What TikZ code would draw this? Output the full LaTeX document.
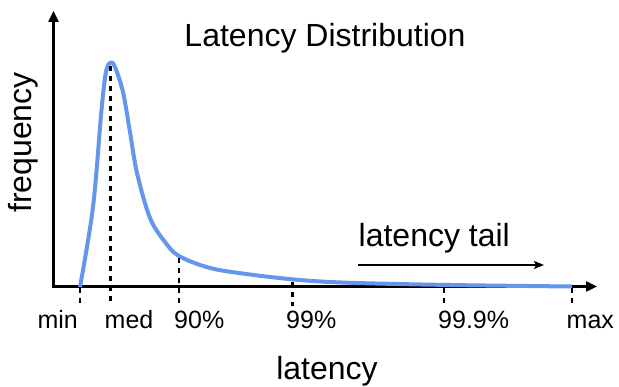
\documentclass[tikz,border=0pt]{standalone}
\usepackage{fontspec}
\setmainfont{Liberation Sans}
\usetikzlibrary{arrows.meta}
\definecolor{curveblue}{RGB}{100,150,235}

\begin{document}
\begin{tikzpicture}[x=1pt,y=-1pt,
    axis/.style={line width=2.4pt,-{Triangle[length=11pt,width=10pt]}},
    tickline/.style={line width=2.4pt,dash pattern=on 5.5pt off 4.5pt},
    bigtext/.style={font=\fontsize{32}{38}\selectfont,inner sep=0pt},
    ticktext/.style={font=\fontsize{25}{30}\selectfont,inner sep=0pt}]
      \useasboundingbox (0,0) rectangle (619,387);
      % axes
      \coordinate (O) at (53.5,286.5);
      \coordinate (ytop) at (53.5,11);
      \coordinate (xend) at (597,286.5);
      \draw[axis] (O |- 0,287.7) -- (ytop);
      \draw[axis] (O) -- (xend);
      % distribution
      \draw[curveblue,line width=4pt,line join=round] plot[smooth,tension=0.55] coordinates
        {(80,287) (93,207) (101.5,110) (106,72) (110.5,62.5) (115,67) (123,92)
         (130,132) (137,173) (150,218) (165,242) (179,256) (210,268) (250,274.5)
         (300,280) (350,282.8) (450,285) (572,286.5)};
      % ticks
      \coordinate (tmin) at (80,288);   \coordinate (bmin) at (80,306);
      \coordinate (tmed) at (110.5,66); \coordinate (bmed) at (110.5,306);
      \coordinate (t90) at (179,258);   \coordinate (b90) at (179,306);
      \coordinate (t99) at (292.3,282); \coordinate (b99) at (292.3,306);
      \coordinate (t999) at (444,288);  \coordinate (b999) at (444,306);
      \coordinate (tmax) at (572,288);  \coordinate (bmax) at (572,306);
      \draw[tickline] (tmin) -- (bmin);
      \draw[tickline] (tmed) -- (bmed);
      \draw[tickline] (t90) -- (b90);
      \draw[tickline] (t99) -- (b99);
      \draw[tickline] (t999) -- (b999);
      \draw[tickline] (tmax) -- (bmax);
      % labels
      \node[ticktext,anchor=base east] (lmin) at (78,329) {min};
      \node[ticktext,anchor=base west] (lmed) at (104.5,329) {med};
      \node[ticktext,anchor=base west] (l90) at (174,329) {90\%};
      \node[ticktext,anchor=base west] (l99) at (286,329) {99\%};
      \node[ticktext,anchor=base west] (l999) at (438,329) {99.9\%};
      \node[ticktext,anchor=base west] (lmax) at (566.5,329) {max};
      \node[bigtext,anchor=base] (title) at (325,46.5) {Latency Distribution};
      \node[bigtext,anchor=base,rotate=90] (ylabel) at (31,142.5) {frequency};
      \node[bigtext,anchor=base] (xlabel) at (327,379.5) {latency};
      \node[bigtext,anchor=base west] (tail) at (358.5,247) {latency tail};
      \coordinate (tailstart) at (358,265);
      \coordinate (tailend) at (544,265);
      \draw[line width=1.6pt,-{Stealth[length=10pt,width=8pt,inset=2pt]}] (tailstart) -- (tailend);
    \end{tikzpicture}
\end{document}
